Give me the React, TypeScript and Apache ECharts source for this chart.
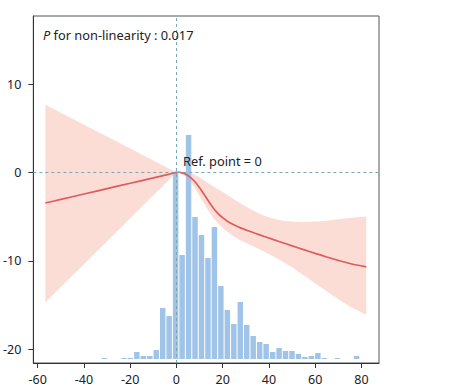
import React, { useEffect, useRef } from "react";
import * as echarts from "echarts";

// Axis ticks
const xTicks = [-60, -40, -20, 0, 20, 40, 60, 80];
const yTicks = [-20, -10, 0, 10];

// Restricted cubic spline estimate and 95% CI
const splineX = [-56.7, -50, -40, -30, -20, -10, -5, -2, 0, 1, 2, 4, 6, 8, 10, 12, 14, 16, 18, 20, 22, 25, 28, 31, 34, 38, 42, 46, 50, 55, 60, 65, 70, 75, 82.1];
const splineY = [-3.46, -3.05, -2.44, -1.83, -1.22, -0.62, -0.31, -0.12, 0, 0.02, -0.02, -0.2, -0.55, -1.05, -1.72, -2.5, -3.3, -4.05, -4.65, -5.12, -5.52, -5.95, -6.3, -6.6, -6.88, -7.24, -7.6, -7.95, -8.3, -8.73, -9.15, -9.56, -9.95, -10.3, -10.68];
const upperCI = [7.66, 6.75, 5.4, 4.05, 2.7, 1.35, 0.68, 0.27, 0, 0.03, 0.05, 0.05, -0.05, -0.25, -0.55, -0.9, -1.25, -1.6, -1.9, -2.22, -2.55, -3.05, -3.55, -4.0, -4.42, -4.9, -5.25, -5.45, -5.55, -5.6, -5.55, -5.45, -5.3, -5.15, -4.98];
const lowerCI = [-14.7, -12.96, -10.37, -7.78, -5.19, -2.59, -1.3, -0.52, 0, -0.03, -0.1, -0.45, -1.05, -1.8, -2.7, -3.55, -4.4, -5.15, -5.75, -6.28, -6.72, -7.28, -7.72, -8.1, -8.47, -8.98, -9.52, -10.1, -10.72, -11.62, -12.55, -13.45, -14.33, -15.15, -16.1];

// Histogram of the exposure distribution
const binStart = -32.51;
const binWidth = 2.796;
const binCounts = [1, 0, 0, 1, 1, 7, 3, 3, 9, 51, 43, 187, 104, 224, 142, 124, 101, 132, 73, 49, 35, 57, 34, 23, 17, 15, 7, 11, 8, 8, 5, 2, 3, 6, 1, 0, 1, 0, 0, 3];

const FONT = "Noto Sans";

export default function App() {
  const ref = useRef<HTMLDivElement>(null);

  useEffect(() => {
    if (!ref.current) return;
    const chart = echarts.init(ref.current, undefined, { renderer: "svg" });

    const lineData = splineX.map((x, i) => [x, splineY[i]]);
    const histData = binCounts.map((c, i) => [binStart + i * binWidth, binStart + (i + 1) * binWidth, c]);

    chart.setOption({
      animation: false,
      grid: {
        left: 33,
        top: 16,
        right: 78,
        bottom: 28,
        show: true,
        borderColor: "#555",
        borderWidth: 1,
        backgroundColor: "transparent",
      },
      xAxis: {
        type: "value",
        min: -61.9,
        max: 87.6,
        axisLine: { show: true, onZero: false, lineStyle: { color: "#333", width: 1 } },
        axisTick: { show: true, length: 5, customValues: xTicks, lineStyle: { color: "#333" } },
        axisLabel: {
          customValues: xTicks,
          margin: 10,
          color: "#222",
          fontFamily: FONT,
          fontSize: 12.5,
        },
        splitLine: { show: false },
      },
      yAxis: [
        {
          type: "value",
          min: -21.55,
          max: 17.69,
          axisLine: { show: true, onZero: false, lineStyle: { color: "#333", width: 1 } },
          axisTick: { show: true, length: 5, customValues: yTicks, lineStyle: { color: "#333" } },
          axisLabel: {
            customValues: yTicks,
            margin: 12,
            color: "#222",
            fontFamily: FONT,
            fontSize: 12.5,
          },
          splitLine: { show: false },
        },
        {
          type: "value",
          min: -4,
          max: 343,
          show: false,
          splitLine: { show: false },
        },
      ],
      graphic: [
        {
          type: "text",
          left: 43,
          top: 28,
          style: {
            text: "{i|P} for non-linearity : 0.017",
            fontFamily: FONT,
            fontSize: 12.8,
            fill: "#222",
            rich: {
              i: { fontStyle: "italic", fontFamily: FONT, fontSize: 12.8, fill: "#222" },
            },
          },
          z: 100,
        },
        {
          type: "text",
          left: 183,
          top: 154,
          style: {
            text: "Ref. point = 0",
            fontFamily: FONT,
            fontSize: 12.8,
            fill: "#222",
          },
          z: 100,
        },
      ],
      series: [
        {
          type: "custom",
          name: "CI",
          data: [[0, 0]],
          z: 1,
          silent: true,
          renderItem: (params: any, api: any) => {
            if (params.dataIndex !== 0) return null;
            const pts: number[][] = [];
            for (let i = 0; i < splineX.length; i++) pts.push(api.coord([splineX[i], upperCI[i]]));
            for (let i = splineX.length - 1; i >= 0; i--) pts.push(api.coord([splineX[i], lowerCI[i]]));
            return {
              type: "polygon",
              shape: { points: pts },
              style: { fill: "#fcddd6", stroke: "none" },
            };
          },
        },
        {
          type: "custom",
          name: "Histogram",
          yAxisIndex: 1,
          data: histData,
          encode: { x: [0, 1], y: 2 },
          z: 2,
          silent: true,
          renderItem: (params: any, api: any) => {
            const c = api.value(2);
            if (!c) return null;
            const p0 = api.coord([api.value(0), 0]);
            const p1 = api.coord([api.value(1), c]);
            return {
              type: "rect",
              shape: { x: p0[0] + 0.5, y: p1[1], width: p1[0] - p0[0] - 1, height: p0[1] - p1[1] },
              style: { fill: "#9fc4e8" },
            };
          },
        },
        {
          type: "line",
          name: "Estimate",
          data: lineData,
          showSymbol: false,
          smooth: 0.3,
          z: 3,
          lineStyle: { color: "#e05a5d", width: 1.7 },
          markLine: {
            silent: true,
            symbol: "none",
            label: { show: false },
            lineStyle: { color: "#7aa6b2", type: [3, 3], width: 1 },
            data: [{ yAxis: 0 }, { xAxis: 0 }],
            z: 4,
          },
        },
      ],
    });

    return () => chart.dispose();
  }, []);

  return (
    <div
      ref={ref}
      style={{ position: "fixed", left: 0, top: 0, width: 457, height: 391, background: "#fff" }}
    />
  );
}
